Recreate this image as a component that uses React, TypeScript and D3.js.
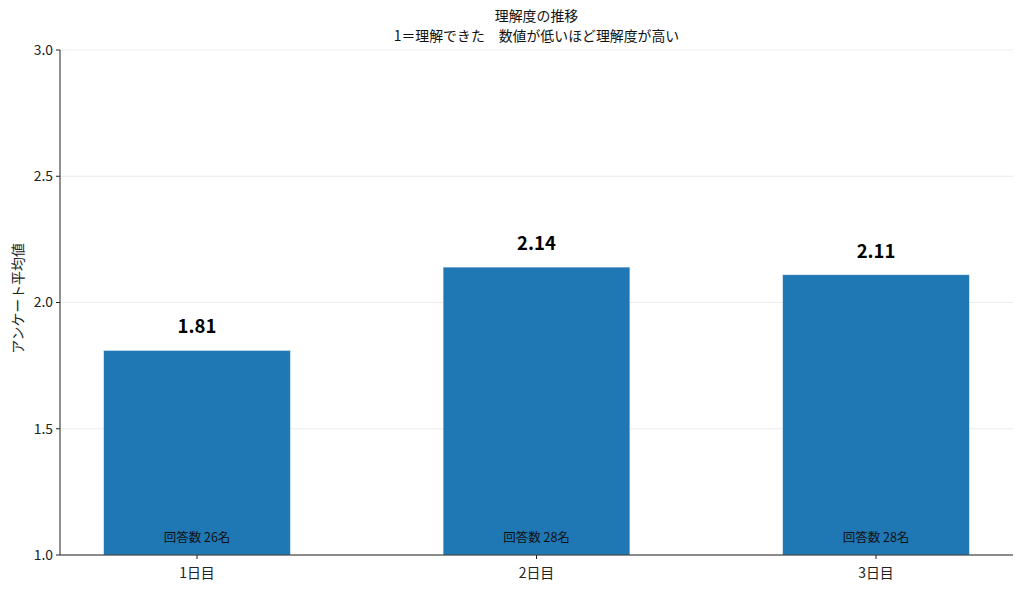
import React from "react";
import * as d3 from "d3";

const categories = ["1日目", "2日目", "3日目"];
const values = [1.81, 2.14, 2.11];
const counts = [26, 28, 28];
const yTicks = [1.0, 1.5, 2.0, 2.5, 3.0];
const titleLines = ["理解度の推移", "1＝理解できた　数値が低いほど理解度が高い"];
const yLabel = "アンケート平均値";

const W = 1024;
const H = 590;
const M = { left: 60, right: 1013, top: 50, bottom: 555 };
const FONT = "'Noto Sans CJK JP', 'Noto Sans', sans-serif";

export default function App() {
  const x = d3.scaleLinear().domain([-0.4035, 2.4035]).range([M.left, M.right]);
  const y = d3.scaleLinear().domain([1.0, 3.0]).range([M.bottom, M.top]);
  const bw = x(0.55) - x(0);

  return (
    <svg width={W} height={H} style={{ position: "absolute", left: 0, top: 0 }} fontFamily={FONT}>
      <rect width={W} height={H} fill="#fff" />
      {yTicks.map((t) => (
        <line key={"g" + t} x1={M.left} x2={M.right} y1={y(t)} y2={y(t)} stroke="#e6e6e6" strokeWidth={0.8} />
      ))}
      {values.map((v, i) => (
        <g key={i}>
          <rect
            x={x(i) - bw / 2}
            y={y(v)}
            width={bw}
            height={y(1.0) - y(v)}
            fill="#1f77b4"
            stroke="#ffffff"
            strokeOpacity={0.5}
            strokeWidth={0.8}
          />
          <text x={x(i)} y={y(v) - 17} textAnchor="middle" fontSize={18.5} fontWeight="bold" fill="#000">
            {v.toFixed(2)}
          </text>
          <text x={x(i)} y={y(1.0) - 13} textAnchor="middle" fontSize={12.5} fill="#111">
            {`回答数 ${counts[i]}名`}
          </text>
        </g>
      ))}
      <line x1={M.left} x2={M.left} y1={M.top} y2={M.bottom} stroke="#222" strokeWidth={1} />
      <line x1={M.left} x2={M.right} y1={M.bottom} y2={M.bottom} stroke="#222" strokeWidth={1} />
      {yTicks.map((t) => (
        <g key={"t" + t}>
          <line x1={M.left - 4} x2={M.left} y1={y(t)} y2={y(t)} stroke="#222" />
          <text x={M.left - 7} y={y(t)} dy="0.35em" textAnchor="end" fontSize={13.9} fill="#222">
            {t.toFixed(1)}
          </text>
        </g>
      ))}
      {categories.map((c, i) => (
        <g key={c}>
          <line x1={x(i)} x2={x(i)} y1={M.bottom} y2={M.bottom + 4} stroke="#222" />
          <text x={x(i)} y={M.bottom + 18} dy="0.35em" textAnchor="middle" fontSize={13.9} fill="#222">
            {c}
          </text>
        </g>
      ))}
      <text
        transform={`translate(${18},${(M.top + M.bottom) / 2 - 4}) rotate(-90)`}
        textAnchor="middle"
        dy="0.35em"
        fontSize={13.9}
        fill="#222"
      >
        {yLabel}
      </text>
      <text x={(M.left + M.right) / 2} y={16} dy="0.35em" textAnchor="middle" fontSize={13.9} fill="#111">
        {titleLines[0]}
      </text>
      <text x={(M.left + M.right) / 2} y={36} dy="0.35em" textAnchor="middle" fontSize={13.9} fill="#111">
        {titleLines[1]}
      </text>
    </svg>
  );
}
